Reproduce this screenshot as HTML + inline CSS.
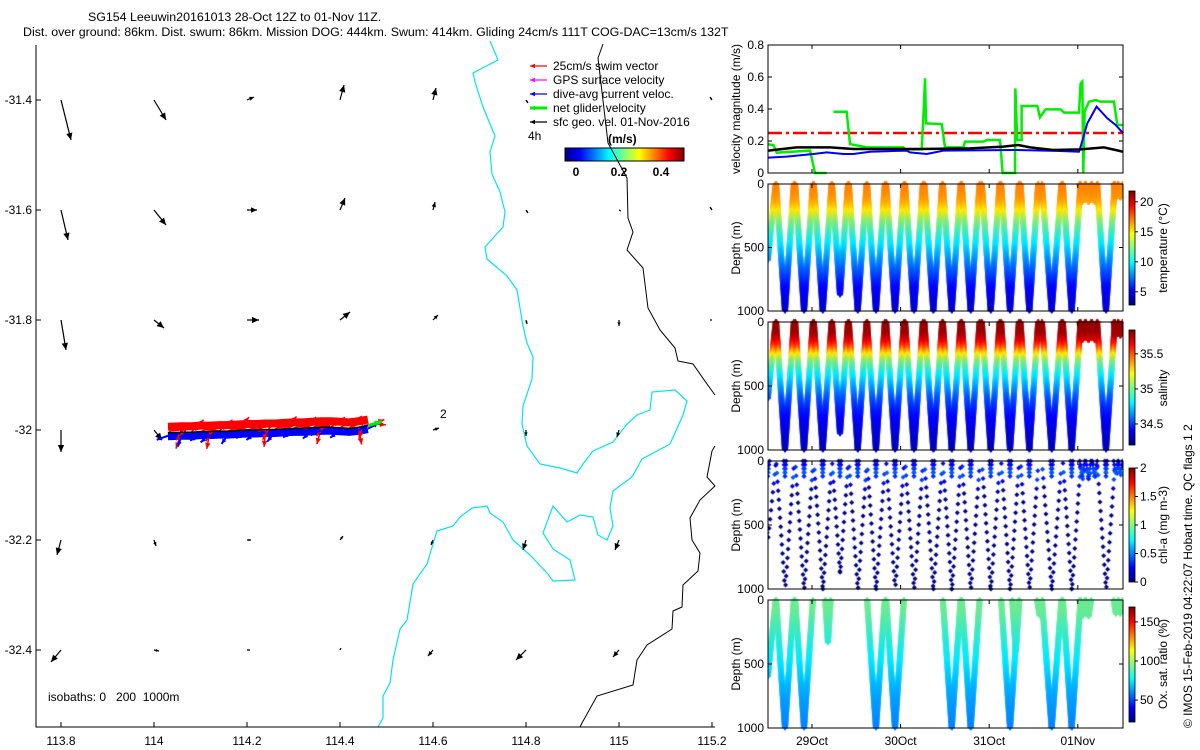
<!DOCTYPE html>
<html><head><meta charset="utf-8">
<style>
body{margin:0;background:#fff;width:1200px;height:750px;overflow:hidden;position:relative;font-family:"Liberation Sans",sans-serif;}
#cv{position:absolute;left:0;top:0;}
#chart{position:absolute;left:0;top:0;}
text{font-family:"Liberation Sans",sans-serif;font-size:12px;fill:#000;}
</style></head>
<body>
<canvas id="cv" width="1200" height="750"></canvas>
<svg id="chart" width="1200" height="750">
<defs>
<linearGradient id="jetH" x1="0" x2="1" y1="0" y2="0">
<stop offset="0" stop-color="#000080"/><stop offset="0.125" stop-color="#0000ff"/><stop offset="0.375" stop-color="#00ffff"/><stop offset="0.5" stop-color="#80ff80"/><stop offset="0.625" stop-color="#ffff00"/><stop offset="0.875" stop-color="#ff0000"/><stop offset="1" stop-color="#800000"/></linearGradient>
<linearGradient id="jetV" x1="0" x2="0" y1="1" y2="0">
<stop offset="0" stop-color="#000080"/><stop offset="0.125" stop-color="#0000ff"/><stop offset="0.375" stop-color="#00ffff"/><stop offset="0.5" stop-color="#80ff80"/><stop offset="0.625" stop-color="#ffff00"/><stop offset="0.875" stop-color="#ff0000"/><stop offset="1" stop-color="#800000"/></linearGradient>
</defs>
<text x="88" y="21" style="font-size:12.4px">SG154 Leeuwin20161013 28-Oct 12Z to 01-Nov 11Z.</text>
<text x="23" y="36" style="font-size:12.4px">Dist. over ground: 86km. Dist. swum: 86km. Mission DOG: 444km. Swum: 414km. Gliding 24cm/s 111T COG-DAC=13cm/s 132T</text>
<text x="48" y="701">isobaths: 0 &#160; 200 &#160;1000m</text>
<g>
<text x="553" y="70">25cm/s swim vector</text>
<text x="553" y="84">GPS surface velocity</text>
<text x="553" y="98">dive-avg current veloc.</text>
<text x="553" y="112">net glider velocity</text>
<text x="553" y="126">sfc geo. vel. 01-Nov-2016</text>
<text x="528" y="140">4h</text>
<text x="608" y="143" style="font-weight:bold">(m/s)</text>
<rect x="565" y="148" width="119" height="13" fill="url(#jetH)" stroke="#000" stroke-width="1"/>
<text x="576" y="176" text-anchor="middle" style="font-weight:bold">0</text>
<text x="619" y="176" text-anchor="middle" style="font-weight:bold">0.2</text>
<text x="661" y="176" text-anchor="middle" style="font-weight:bold">0.4</text>
</g>
<text transform="translate(740,109) rotate(-90)" text-anchor="middle">velocity magnitude (m/s)</text>
<text transform="translate(740,248) rotate(-90)" text-anchor="middle">Depth (m)</text>
<text transform="translate(740,386) rotate(-90)" text-anchor="middle">Depth (m)</text>
<text transform="translate(740,525) rotate(-90)" text-anchor="middle">Depth (m)</text>
<text transform="translate(740,664) rotate(-90)" text-anchor="middle">Depth (m)</text>
<text transform="translate(1167,248) rotate(-90)" text-anchor="middle">temperature (°C)</text>
<text transform="translate(1167,388) rotate(-90)" text-anchor="middle">salinity</text>
<text transform="translate(1167,525) rotate(-90)" text-anchor="middle">chl-a (mg m-3)</text>
<text transform="translate(1167,664) rotate(-90)" text-anchor="middle">Ox. sat. ratio (%)</text>
<text transform="translate(1192,728) rotate(-90)">© IMOS 15-Feb-2019 04:22:07 Hobart time. QC flags 1  2</text>
</svg>
<script>
// ---------------- data ----------------
const mapLonTicks=[113.8,114,114.2,114.4,114.6,114.8,115,115.2];
const mapLatTicks=[-31.4,-31.6,-31.8,-32,-32.2,-32.4];
const geoU=[[0.05,0.06,0.035,0.02,0.015,0.01,0,-0.01],[0.035,0.06,0.05,0.025,0.01,0.01,0.01,-0.01],[0.025,0.05,0.06,0.05,0.025,0.005,0,-0.01],[0,0.04,0,0,0.03,0,-0.01,0],[-0.02,0.01,0.02,0.015,-0.01,-0.015,-0.02,0],[-0.05,0.025,0.015,0.005,-0.025,-0.05,-0.03,0]];
const geoV=[[-0.2,-0.1,0.015,0.075,0.06,-0.015,0,0.015],[-0.15,-0.075,0,0.06,0.04,-0.015,-0.005,0.015],[-0.15,-0.04,0,0.04,0.025,-0.02,-0.03,0],[-0.11,-0.05,0,0,0.01,-0.03,-0.035,0],[-0.075,-0.03,0,0.02,-0.025,-0.05,-0.05,0],[-0.06,-0.005,0,0.01,-0.03,-0.05,-0.035,0]];
const trackLon=[114.03,114.06,114.08,114.1,114.12,114.14,114.16,114.18,114.2,114.22,114.24,114.26,114.28,114.3,114.32,114.34,114.36,114.38,114.4,114.42,114.44,114.46];
const trackLat=[-32.005,-32.004,-32.004,-32.003,-32.003,-32.002,-32.002,-32.001,-32.0,-32.0,-31.999,-31.999,-31.998,-31.997,-31.997,-31.996,-31.995,-31.995,-31.996,-31.997,-31.995,-31.992];
const swimHead=[60,200,45,70,190,50,65,40,75,55,185,60,45,70,50,65,195,55,60,45,170,70];
const dacHead=[250,200,260,240,230,255,215,265,245,235,250,220,260,240,255,230,245,250,235,260,60,65];
const cyanIso=[[490,41],[498,60],[473,73],[475,82],[483,107],[495,136],[490,152],[492,174],[500,192],[505,212],[503,227],[485,247],[487,259],[507,276],[517,290],[523,326],[527,343],[533,357],[532,379],[523,406],[522,424],[527,446],[540,464],[560,468],[577,473],[583,464],[593,451],[613,442],[627,424],[637,415],[650,410],[652,392],[675,390],[687,401],[683,415],[670,444],[642,459],[632,477],[613,491],[610,508],[613,526],[607,540],[598,535],[593,517],[580,515],[567,522],[553,506],[543,533],[553,549],[570,560],[575,580],[553,581],[547,573],[530,555],[513,540],[503,522],[490,513],[487,506],[472,508],[460,517],[453,526],[437,531],[433,544],[427,564],[413,584],[407,620],[400,629],[393,660],[390,683],[383,696],[383,718],[378,727]];
const blackIso1=[[603,44],[598,58],[608,143],[627,178],[628,218],[633,232],[627,250],[643,268],[648,308],[660,330],[675,348],[678,361],[693,364],[707,384],[715,395]];
const blackIso2=[[715,446],[712,451],[707,477],[715,486],[700,500],[690,518],[692,540],[700,553],[698,571],[683,585],[682,607],[673,611],[672,629],[647,645],[637,660],[633,685],[597,696],[582,723],[580,727]];

const velTicks=[0,0.2,0.4,0.6,0.8];
const greenT=[0.507,0.564,0.602,0.978,1.034,1.166,null,1.241,1.391,1.429,1.617,2.031,2.050,2.238,2.257,2.276,2.287,2.464,2.501,2.708,2.727,2.934,2.972,3.122,3.152,3.291,3.295,3.317,3.366,3.366,3.543,3.573,3.637,3.806,3.844,4.013,4.032,4.051,4.062,4.077,4.126,4.201,4.257,4.408,4.446,4.513];
const greenV=[0.179,0.175,0.127,0.140,0,0,null,0.383,0.383,0.181,0.160,0.160,0.148,0.148,0.352,0.592,0.310,0.306,0.160,0.160,0.196,0.196,0.206,0.206,0,0,0.529,0.206,0.206,0.419,0.419,0.348,0.398,0.398,0.377,0.377,0.560,0.571,0,0.385,0.446,0.456,0.446,0.446,0.300,0.300];
const blueT=[0.507,0.714,1.015,1.166,1.354,1.467,1.655,2.069,2.106,2.295,2.483,3.273,3.762,4.013,4.032,4.107,4.212,4.333,4.427,4.513];
const blueV=[0.096,0.102,0.119,0.129,0.119,0.119,0.133,0.140,0.129,0.119,0.140,0.144,0.138,0.133,0.165,0.310,0.415,0.342,0.300,0.248];
const blackT=[0.507,0.827,1.204,1.467,2.219,2.784,3.160,3.329,3.461,3.724,4.032,4.295,4.513];
const blackV=[0.140,0.160,0.160,0.150,0.150,0.154,0.165,0.175,0.160,0.144,0.148,0.160,0.133];
const swimSpeed=0.25;
const dateTicks=[1,2,3,4];
const dateLabels=['29Oct','30Oct','31Oct','01Nov'];

const diveT=[0.50,0.695,0.910,1.121,1.316,1.516,1.722,1.937,2.151,2.369,2.577,2.791,3.017,3.235,3.453,3.705,3.931,4.05,4.12,4.19,4.318,4.43,4.48];
const diveD=[600,1000,1000,1000,870,1000,1000,1000,1000,1000,1000,1000,1000,1000,1000,1000,1000,140,140,140,1000,110,110];
const diveW=[0.09,0.1,0.1,0.1,0.09,0.1,0.1,0.1,0.1,0.1,0.1,0.1,0.1,0.1,0.1,0.11,0.1,0.03,0.03,0.03,0.1,0.025,0.025];
const oxT=[0.50,0.695,0.910,1.18,1.722,1.937,2.577,2.791,3.235,3.30,3.57,3.705,3.931,4.05,4.12,4.43,4.48];
const oxD=[600,1000,1000,330,1000,1000,1000,1000,1000,400,120,1000,1000,130,130,110,110];
const oxW=[0.09,0.1,0.1,0.03,0.1,0.1,0.1,0.1,0.1,0.04,0.03,0.11,0.1,0.03,0.03,0.025,0.025];
const profDepth=[0,50,100,150,200,250,300,400,500,600,700,800,900,1000];
const tempProf=[16.8,16.7,16.5,16,15,13.7,12.4,10.9,9.5,8.1,6.8,5.5,4.7,4.3];
const salProf=[35.8,35.8,35.78,35.68,35.5,35.25,35.05,34.85,34.7,34.55,34.45,34.38,34.33,34.3];
const oxProf=[92,93,92,90,88,86,84,80,76,72,68,65,63,61];
const chlProf=[0.1,0.35,0.45,0.2,0.05,0.02,0,0,0,0,0,0,0,0];
const tempTicks=[5,10,15,20], salTicks=[34.5,35,35.5], chlTicks=[0,0.5,1,1.5,2], oxTicks=[50,100,150];
const depthTicks=[0,500,1000];

// ---------------- helpers ----------------
const NS='http://www.w3.org/2000/svg';
const svg=document.getElementById('chart');
function mk(tag,attrs,parent){const e=document.createElementNS(NS,tag);for(const k in attrs)e.setAttribute(k,attrs[k]);(parent||svg).appendChild(e);return e;}
const mx=lon=>61+(lon-113.8)*465;
const my=lat=>100+(-31.4-lat)*550;
const L=768,R=1123;
const tx=t=>812+(t-1)*88.6;
const vel={top:45,bot:173};
const vy=v=>vel.bot-(v/0.8)*(vel.bot-vel.top);
const panels={temp:{top:184,bot:311,cb:[191,305],min:2.8,max:21.8},sal:{top:322,bot:450,cb:[330,445],min:34.2,max:35.84},chl:{top:461,bot:589,cb:[468,582],min:0,max:2},ox:{top:600,bot:728,cb:[607,722],min:22,max:169}};
function jet(f){f=Math.max(0,Math.min(1,f));const c=x=>Math.max(0,Math.min(1,1.5-Math.abs(4*f-x)));return 'rgb('+Math.round(255*c(3))+','+Math.round(235*c(2))+','+Math.round(255*c(1))+')';}
function interp(d,ds,vs){for(let i=1;i<ds.length;i++){if(d<=ds[i]){const f=(d-ds[i-1])/(ds[i]-ds[i-1]);return vs[i-1]+f*(vs[i]-vs[i-1]);}}return vs[vs.length-1];}
function arrow(g,x,y,dx,dy,color,w,hs,name){
  const len=Math.hypot(dx,dy); if(len<0.5) return;
  const ln=mk('line',{x1:x,y1:y,x2:x+dx,y2:y+dy,stroke:color,'stroke-width':w},g);
  
  
  const ux=dx/len,uy=dy/len,h=Math.min(hs,len*0.6);
  const ex=x+dx,ey=y+dy;
  const hd=mk('polygon',{points:ex+','+ey+' '+(ex-ux*h-uy*h*0.45)+','+(ey-uy*h+ux*h*0.45)+' '+(ex-ux*h+uy*h*0.45)+','+(ey-uy*h-ux*h*0.45),fill:color},g);
  
  
}

// ---------------- map ----------------
const mapG=mk('g',{});


const cy=mk('polyline',{points:cyanIso.map(p=>p.join(',')).join(' '),fill:'none',stroke:'#00e5ee','stroke-width':1.2},mapG);


[blackIso1,blackIso2].forEach(pts=>{
  const b=mk('polyline',{points:pts.map(p=>p.join(',')).join(' '),fill:'none',stroke:'#000','stroke-width':1},mapG);
  
  
});
const ax=mk('path',{d:'M36,45 V727 H715',fill:'none',stroke:'#000','stroke-width':1},mapG);


mapLonTicks.forEach(lon=>{
  const x=mx(lon);
  const tk=mk('line',{x1:x,y1:727,x2:x,y2:722,stroke:'#000'},mapG);
  
  
  const t=mk('text',{x:x,y:745,'text-anchor':'middle'},mapG);
  t.textContent=lon;
  
  
});
mapLatTicks.forEach(lat=>{
  const y=my(lat);
  const tk=mk('line',{x1:36,y1:y,x2:41,y2:y,stroke:'#000'},mapG);
  
  
  const t=mk('text',{x:32,y:y+4,'text-anchor':'end'},mapG);
  t.textContent=lat;
  
  
});
mapLatTicks.forEach((lat,i)=>mapLonTicks.forEach((lon,j)=>{
  arrow(mapG,mx(lon),my(lat),geoU[i][j]*200,-geoV[i][j]*200,'#000',1.2,7,'geo-velocity-arrow');
}));
// glider track
const blueBand=mk('polyline',{points:trackLon.map((lon,i)=>mx(lon)+','+(my(trackLat[i])+4)).join(' '),fill:'none',stroke:'#0000ff','stroke-width':7},mapG);


const redBand=mk('polyline',{points:trackLon.map((lon,i)=>mx(lon)+','+(my(trackLat[i])-6)).join(' '),fill:'none',stroke:'#ff0000','stroke-width':8},mapG);


trackLon.forEach((lon,i)=>{
  const x=mx(lon),y=my(trackLat[i]);
  const a=swimHead[i]*Math.PI/180, L2=swimSpeed*70;
  arrow(mapG,x,y,Math.sin(a)*L2,-Math.cos(a)*L2,'#ff0000',1.5,6,'swim-vector');
  const a2=(swimHead[i]+25)*Math.PI/180;
  arrow(mapG,x+4,y-2,Math.sin(a2)*L2*0.8,-Math.cos(a2)*L2*0.8,'#ff0000',1.5,6,'swim-vector');
  const b=dacHead[i]*Math.PI/180;
  arrow(mapG,x,y+3,Math.sin(b)*12,-Math.cos(b)*12,'#0000ff',2,5,'dac-vector');
});
const trk=mk('polyline',{points:trackLon.map((lon,i)=>mx(lon)+','+my(trackLat[i])).join(' '),fill:'none',stroke:'#000','stroke-width':1.5},mapG);


const lx=mx(trackLon[trackLon.length-1]),ly=my(trackLat[trackLat.length-1]);
arrow(mapG,lx,ly,14,-4,'#00ee00',3,7,'net-glider-velocity');
const lab2=mk('text',{x:440,y:418},mapG);lab2.textContent='2';


// legend arrows
[['#ff0000',1.2],['#ff00ff',1.2],['#0000ff',1.2],['#00ee00',3],['#000',1.2]].forEach((c,i)=>{
  arrow(svg,547,66+14*i,-17,0,c[0],c[1],5,'legend-arrow');
});

// ---------------- velocity panel ----------------
const vg=mk('g',{});


function series(ts,vs,color,w,name,dash){
  let segs=[],cur=[];
  ts.forEach((t,i)=>{if(t===null){segs.push(cur);cur=[];}else cur.push(tx(t)+','+vy(vs[i]));});
  segs.push(cur);
  segs.forEach(s=>{
    const p=mk('polyline',{points:s.join(' '),fill:'none',stroke:color,'stroke-width':w},vg);
    if(dash)p.setAttribute('stroke-dasharray',dash);
    
    
  });
}
series([0.503,4.513],[swimSpeed,swimSpeed],'#ff0000',2.5,'swim-speed-line','14,4,3,4');
series(greenT,greenV,'#00ee00',2.5,'net-velocity-line');
series(blueT,blueV,'#0000ff',2,'dac-magnitude-line');
series(blackT,blackV,'#000',2.5,'geo-velocity-line');
const vb=mk('rect',{x:L,y:vel.top,width:R-L,height:vel.bot-vel.top,fill:'none',stroke:'#000'},vg);


velTicks.forEach(v=>{
  const y=vy(v);
  const t=mk('text',{x:764,y:y+4,'text-anchor':'end'},vg);t.textContent=v;
  
  
  const k=mk('path',{d:'M'+L+','+y+' h4 M'+R+','+y+' h-4',stroke:'#000'},vg);
  
  
});
dateTicks.forEach(d=>{
  const x=tx(d);
  const k=mk('path',{d:'M'+x+','+vel.bot+' v-4 M'+x+','+vel.top+' v4',stroke:'#000'},vg);
  
  
});

// ---------------- profile panels ----------------
const ctx=document.getElementById('cv').getContext('2d');
function plus(x,y,c,s){ctx.fillStyle=c;ctx.fillRect(x-s,y-0.8,2*s,1.8);ctx.fillRect(x-0.8,y-s,1.8,2*s);ctx.fillRect(x-s*0.5,y-s*0.5,s,s);}
function drawDives(p,ts,ds,ws,prof,step,marker,stagger){
  const dy=d=>p.top+d/1000*(p.bot-p.top);
  ctx.save();ctx.beginPath();ctx.rect(L,p.top-3,R-L,p.bot-p.top+6);ctx.clip();
  ts.forEach((tb,i)=>{
    const D=ds[i],w=ws[i];
    const off=stagger?(i*23)%step:0;
    for(let d=off;d<=D;d+=step){
      const f=1-d/D;
      const val=interp(d,profDepth,prof);
      const c=jet((val-p.min)/(p.max-p.min));
      [tb-w*f,tb+w*f].forEach((t,k)=>{const x=tx(t);const yy=dy(stagger&&k?Math.min(D,d+step/2):d);if(x>=L-2&&x<=R+2)marker(x,yy,c);});
    }
  });
  ctx.restore();
}
const mPlus=(x,y,c)=>plus(x,y,c,3);
drawDives(panels.temp,diveT,diveD,diveW,tempProf,7,mPlus);
drawDives(panels.sal,diveT,diveD,diveW,salProf,7,mPlus);
drawDives(panels.ox,oxT,oxD,oxW,oxProf,7,mPlus);
const mDia=(x,y,c)=>{ctx.fillStyle=c;ctx.beginPath();ctx.moveTo(x,y-2.5);ctx.lineTo(x+2.5,y);ctx.lineTo(x,y+2.5);ctx.lineTo(x-2.5,y);ctx.fill();};
drawDives(panels.chl,diveT,diveD,diveW,chlProf,70,mDia,true);
drawDives(panels.chl,diveT,diveD.map(d=>Math.min(d,130)),diveW.map((w,i)=>w*Math.min(diveD[i],130)/diveD[i]),chlProf,30,mDia);

const cbTicks={temp:tempTicks,sal:salTicks,chl:chlTicks,ox:oxTicks};
Object.keys(panels).forEach(k=>{
  const p=panels[k];
  const g=mk('g',{});
  
  
  const b=mk('rect',{x:L,y:p.top,width:R-L,height:p.bot-p.top,fill:'none',stroke:'#000'},g);
  
  
  depthTicks.forEach(d=>{
    const y=p.top+d/1000*(p.bot-p.top);
    const t=mk('text',{x:764,y:y+4,'text-anchor':'end'},g);t.textContent=d;
    
    
    const tk=mk('path',{d:'M'+L+','+y+' h4 M'+R+','+y+' h-4',stroke:'#000'},g);
    
    
  });
  dateTicks.forEach(d=>{
    const x=tx(d);
    const tk=mk('path',{d:'M'+x+','+p.bot+' v-4 M'+x+','+p.top+' v4',stroke:'#000'},g);
    
    
  });
  const cb=mk('rect',{x:1129,y:p.cb[0],width:6,height:p.cb[1]-p.cb[0],fill:'url(#jetV)',stroke:'#000','stroke-width':0.8},g);
  
  
  cbTicks[k].forEach(v=>{
    const y=p.cb[1]-(v-p.min)/(p.max-p.min)*(p.cb[1]-p.cb[0]);
    const tk=mk('line',{x1:1135,y1:y,x2:1138,y2:y,stroke:'#000'},g);
    
    
    const t=mk('text',{x:1140,y:y+4},g);t.textContent=v;
    
    
  });
});
dateTicks.forEach((d,i)=>{
  const t=mk('text',{x:tx(d),y:745,'text-anchor':'middle'});t.textContent=dateLabels[i];
  
  
});
</script>
</body></html>
